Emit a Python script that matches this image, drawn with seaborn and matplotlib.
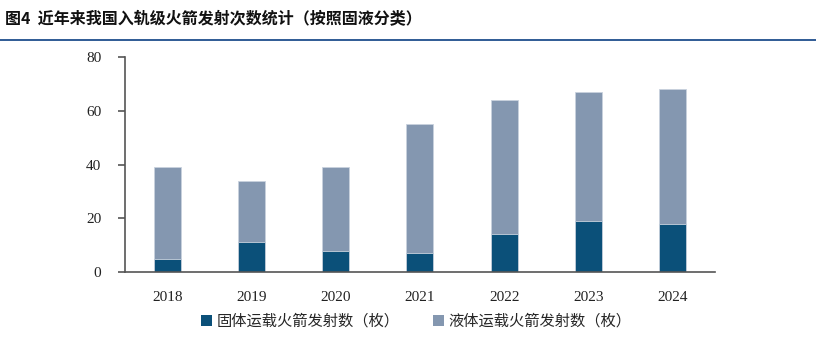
import matplotlib
matplotlib.use("Agg")
import matplotlib.pyplot as plt
import seaborn as sns
import pandas as pd
import numpy as np

years = ["2018", "2019", "2020", "2021", "2022", "2023", "2024"]
solid = [5, 11, 8, 7, 14, 19, 18]
liquid = [34, 23, 31, 48, 50, 48, 50]
yticks = [0, 20, 40, 60, 80]
title = "图4  近年来我国入轨级火箭发射次数统计（按照固液分类）"
label_solid = "固体运载火箭发射数（枚）"
label_liquid = "液体运载火箭发射数（枚）"

c_solid = "#0B5079"
c_liquid = "#8497B0"

sns.set_theme(style="white")
plt.rcParams['font.family'] = ['Liberation Serif', 'Noto Sans CJK SC', 'DejaVu Sans']

df = pd.DataFrame({"year": years, "solid": solid, "liquid": liquid})
df["total"] = df["solid"] + df["liquid"]

fig = plt.figure(figsize=(8.16, 3.41), dpi=100)
ax = fig.add_axes([0.1532, 0.2023, 0.7228, 0.6305])

sns.barplot(data=df, x="year", y="total", color=c_liquid, width=0.32, ax=ax,
            saturation=1, label=label_liquid, edgecolor="#c9d2de", linewidth=0.6)
sns.barplot(data=df, x="year", y="solid", color=c_solid, width=0.32, ax=ax,
            saturation=1, label=label_solid, edgecolor="#c9d2de", linewidth=0.6)

handles, labels = ax.get_legend_handles_labels()
if ax.get_legend() is not None:
    ax.get_legend().remove()

ax.set_xlim(-0.5, 6.5)
ax.set_ylim(0, 80)
ax.set_yticks(yticks)
ax.set_xlabel("")
ax.set_ylabel("")
for s in ["top", "right"]:
    ax.spines[s].set_visible(False)
for s in ["left", "bottom"]:
    ax.spines[s].set_color("#555555")
    ax.spines[s].set_linewidth(1.2)
ax.tick_params(axis="y", which="both", left=True, length=5, width=1.2, color="#555555",
               labelsize=11, labelcolor="#222222", pad=12)
ax.tick_params(axis="x", bottom=False, labelsize=11, labelcolor="#222222", pad=8)

order = [labels.index(label_solid), labels.index(label_liquid)]
leg = fig.legend([handles[i] for i in order], [labels[i] for i in order],
                 loc="center", bbox_to_anchor=(0.51, 0.058), ncol=2, frameon=False,
                 handlelength=0.7, handleheight=0.7, handletextpad=0.3,
                 columnspacing=2.2, prop={"family": ["Noto Sans CJK SC"], "size": 11})
for h in leg.legend_handles:
    h.set_edgecolor("none")

fig.text(0.006, 0.945, title, fontsize=11.5, fontweight="bold",
         family=["Noto Sans CJK SC", "DejaVu Sans"], color="#111111", va="center")
fig.add_artist(plt.Line2D([0, 1], [0.883, 0.883], color="#1F4E8C", linewidth=1.3,
                          transform=fig.transFigure))

fig.savefig("out.png", dpi=100, facecolor="white")
